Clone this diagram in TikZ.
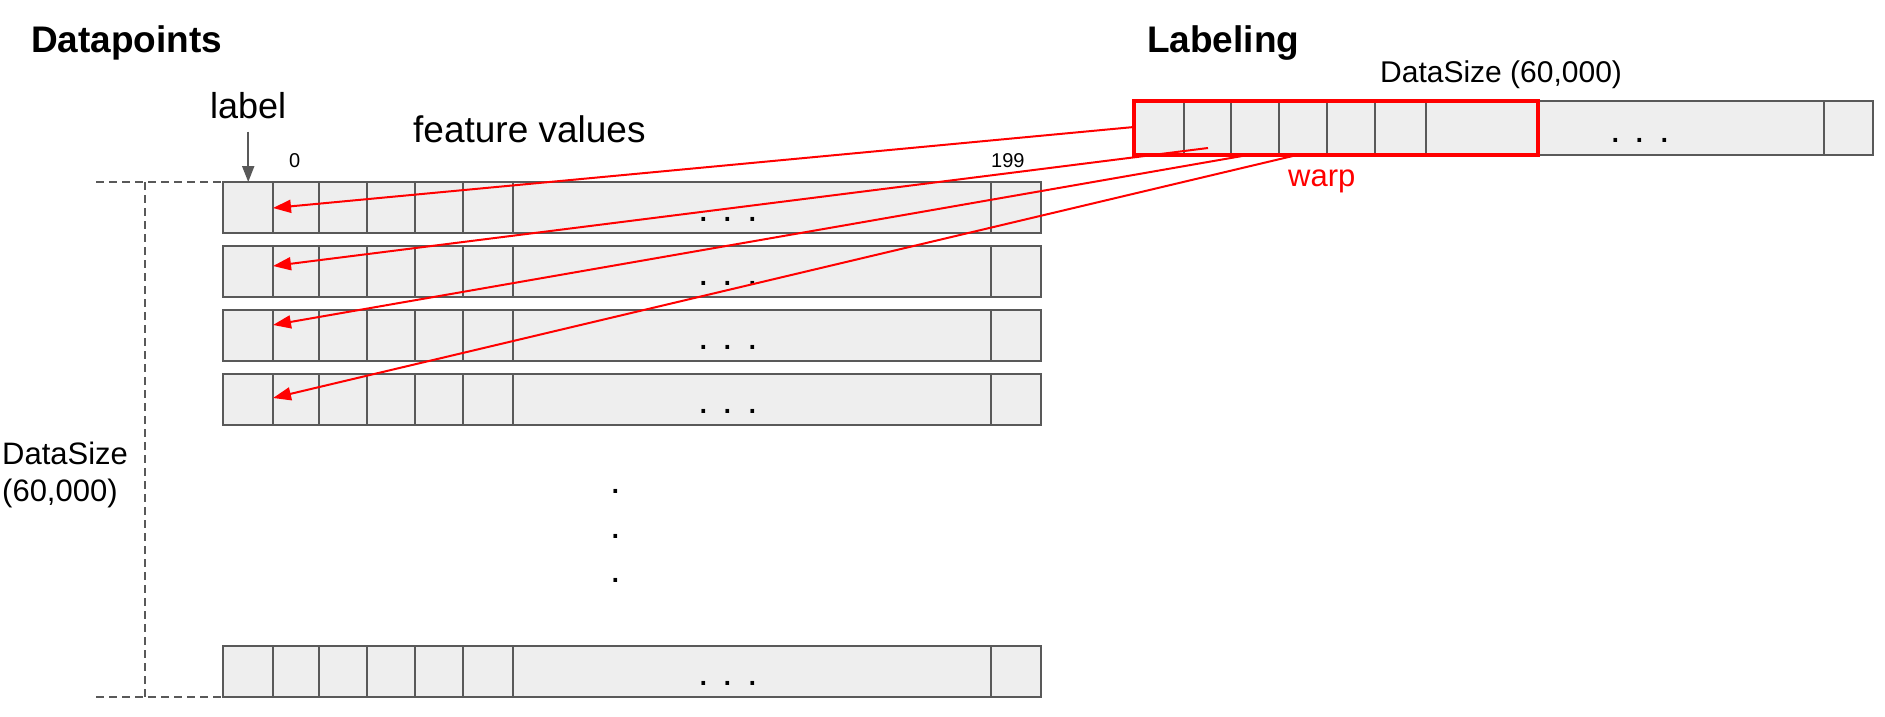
\documentclass[tikz,border=0pt]{standalone}
\usepackage{fontspec}
\setmainfont{Liberation Sans}
\usetikzlibrary{arrows.meta}
\definecolor{gridgray}{HTML}{595959}
\definecolor{cellfill}{HTML}{EEEEEE}
\definecolor{warpred}{HTML}{FF0000}
\newcommand{\fsize}[1]{\fontsize{#1}{#1}\selectfont}

\begin{document}
\begin{tikzpicture}[x=1pt,y=-1pt,
    txt/.style={inner sep=0pt,anchor=base west},
    cellline/.style={draw=gridgray,line width=2pt},
    dots/.style={inner sep=0pt,anchor=base,font=\fsize{38}},
    sizeline/.style={draw=gridgray,line width=2pt,dash pattern=on 8pt off 5pt},
    labelarrow/.style={draw=gridgray,line width=2pt,-{Triangle[length=16pt,width=12pt]}},
    warparrow/.style={draw=warpred,line width=2pt,-{Triangle[length=18pt,width=13pt]}}]
  \useasboundingbox (0,0) rectangle (1885,717);

  % titles and labels
  \node[txt,font=\fsize{37}\bfseries] (datapoints) at (31,53) {Datapoints};
  \node[txt,font=\fsize{37}\bfseries] (labeling) at (1147,53) {Labeling};
  \node[txt,font=\fsize{30}] (labsize) at (1380,82) {DataSize (60,000)};
  \node[txt,font=\fsize{36}] (lbl) at (210,118) {label};
  \node[txt,font=\fsize{37}] (features) at (413,142) {feature values};
  \node[txt,font=\fsize{20}] (first) at (289,167) {0};
  \node[txt,font=\fsize{20}] (last) at (991,167) {199};
  \node[txt,font=\fsize{31},text=warpred] (warp) at (1288,186) {warp};
  \node[inner sep=0pt,anchor=north west,align=left,font=\fontsize{31}{37}\selectfont] (rowsize) at (2,442) {DataSize\\(60,000)};

  % data rows
  \foreach \t in {182,246,310,374,646}{
    \draw[cellline,fill=cellfill] (223,\t) rectangle (1041,\t+51);
    \foreach \x in {273,319,367,415,463,513,991}
      \draw[cellline] (\x,\t) -- (\x,\t+51);
    \node[dots] (rowdots\t) at (728,\t+39) {. . .};
  }
  \foreach \y in {493,538,582}
    \node[dots] (vdot\y) at (616,\y) {.};

  % labeling array
  \draw[cellline,fill=cellfill] (1134,101) rectangle (1873,155);
  \foreach \x in {1184,1231,1279,1327,1375,1426,1538,1824}
    \draw[cellline] (\x,101) -- (\x,155);
  \draw[draw=warpred,line width=4pt] (1134,101) rectangle (1538,155);
  \node[dots] (labdots) at (1640,142) {. . .};

  % size bracket
  \draw[sizeline] (96,182) -- (223,182);
  \draw[sizeline] (96,697) -- (223,697);
  \draw[sizeline] (145,182) -- (145,697);

  % arrows
  \coordinate (lbltip) at (248,182);
  \draw[labelarrow] ([yshift=-13pt]lbl.south) -- (lbl.south |- lbltip);

  \coordinate (src1) at (1134,127);
  \coordinate (src2) at (1208,148);
  \coordinate (src3) at (1248,155);
  \coordinate (src4) at (1297,155);
  \coordinate (dst1) at (273,208);
  \coordinate (dst2) at (273,266);
  \coordinate (dst3) at (273,325);
  \coordinate (dst4) at (273,398);
  \foreach \i in {1,...,4}
    \draw[warparrow] (src\i) -- (dst\i);
\end{tikzpicture}
\end{document}
